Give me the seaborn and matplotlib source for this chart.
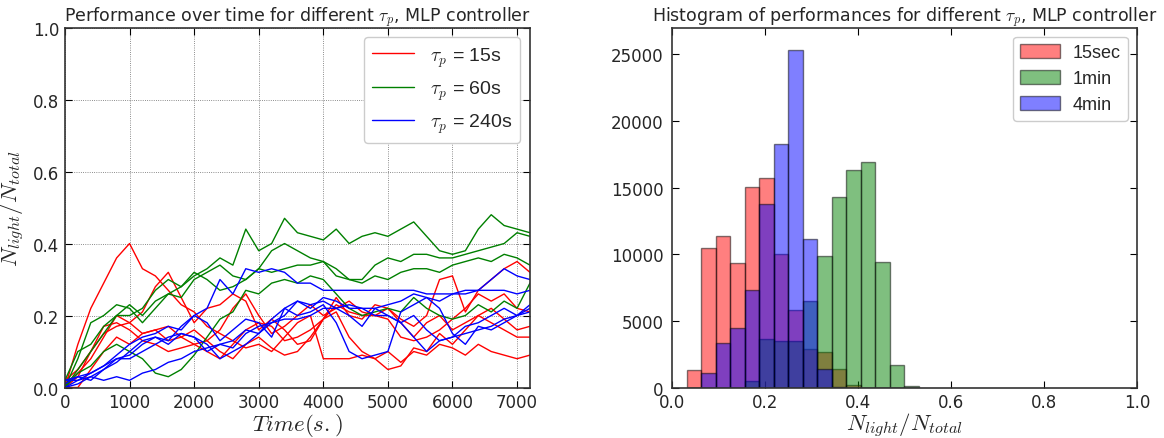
import numpy as np
import pandas as pd
import matplotlib
matplotlib.use('Agg')
import matplotlib.pyplot as plt
import seaborn as sns

# time axis of the runs (s)
t = [0, 200, 400, 600, 800, 1000, 1200, 1400, 1600, 1800, 2000, 2200, 2400,
     2600, 2800, 3000, 3200, 3400, 3600, 3800, 4000, 4200, 4400, 4600, 4800,
     5000, 5200, 5400, 5600, 5800, 6000, 6200, 6400, 6600, 6800, 7000, 7200]

# tau_p = 15s runs
r1 = [0.0, 0.12, 0.22, 0.29, 0.36, 0.40, 0.33, 0.31, 0.27, 0.23, 0.21, 0.17, 0.15,
      0.13, 0.11, 0.12, 0.10, 0.14, 0.18, 0.20, 0.08, 0.08, 0.08, 0.09, 0.08,
      0.10, 0.07, 0.10, 0.09, 0.12, 0.11, 0.09, 0.12, 0.10, 0.09, 0.08, 0.09]
r2 = [0.02, 0.05, 0.10, 0.15, 0.17, 0.18, 0.15, 0.16, 0.17, 0.14, 0.16, 0.13, 0.16,
      0.22, 0.26, 0.20, 0.15, 0.17, 0.20, 0.23, 0.20, 0.22, 0.24, 0.21, 0.20,
      0.22, 0.19, 0.17, 0.20, 0.30, 0.31, 0.21, 0.27, 0.30, 0.33, 0.35, 0.32]
r3 = [0.0, 0.03, 0.10, 0.17, 0.18, 0.16, 0.13, 0.12, 0.10, 0.11, 0.12, 0.10, 0.08,
      0.12, 0.16, 0.18, 0.17, 0.13, 0.14, 0.16, 0.19, 0.25, 0.20, 0.19, 0.23,
      0.22, 0.18, 0.14, 0.18, 0.20, 0.16, 0.18, 0.20, 0.22, 0.19, 0.16, 0.17]
r4 = [0.0, 0.0, 0.05, 0.10, 0.14, 0.12, 0.15, 0.16, 0.13, 0.14, 0.12, 0.13, 0.10,
      0.08, 0.12, 0.14, 0.11, 0.09, 0.10, 0.14, 0.19, 0.21, 0.14, 0.10, 0.08,
      0.05, 0.06, 0.11, 0.10, 0.15, 0.12, 0.16, 0.20, 0.18, 0.16, 0.14, 0.14]
r5 = [0.01, 0.04, 0.08, 0.14, 0.20, 0.18, 0.21, 0.28, 0.32, 0.25, 0.18, 0.22, 0.23,
      0.26, 0.24, 0.16, 0.19, 0.16, 0.12, 0.13, 0.19, 0.23, 0.21, 0.20, 0.20,
      0.19, 0.14, 0.13, 0.14, 0.16, 0.19, 0.22, 0.26, 0.24, 0.26, 0.22, 0.21]

# tau_p = 60s runs
g1 = [0.0, 0.05, 0.10, 0.15, 0.20, 0.20, 0.22, 0.27, 0.30, 0.28, 0.31, 0.33, 0.36,
      0.34, 0.44, 0.38, 0.40, 0.47, 0.43, 0.42, 0.41, 0.44, 0.40, 0.42, 0.43,
      0.42, 0.44, 0.46, 0.42, 0.38, 0.37, 0.38, 0.44, 0.48, 0.45, 0.44, 0.43]
g2 = [0.0, 0.08, 0.18, 0.20, 0.23, 0.22, 0.18, 0.22, 0.26, 0.25, 0.30, 0.32, 0.34,
      0.31, 0.30, 0.33, 0.38, 0.40, 0.38, 0.36, 0.35, 0.31, 0.30, 0.30, 0.34,
      0.36, 0.35, 0.37, 0.37, 0.36, 0.36, 0.37, 0.38, 0.39, 0.40, 0.43, 0.42]
g3 = [0.02, 0.10, 0.12, 0.17, 0.20, 0.23, 0.20, 0.24, 0.26, 0.28, 0.32, 0.30, 0.27,
      0.28, 0.30, 0.33, 0.32, 0.33, 0.34, 0.34, 0.35, 0.33, 0.30, 0.29, 0.31,
      0.30, 0.32, 0.33, 0.33, 0.32, 0.34, 0.35, 0.36, 0.35, 0.37, 0.36, 0.34]
g4 = [0.0, 0.04, 0.06, 0.10, 0.12, 0.10, 0.08, 0.04, 0.03, 0.05, 0.09, 0.14, 0.19,
      0.21, 0.27, 0.26, 0.29, 0.30, 0.29, 0.31, 0.30, 0.26, 0.22, 0.20, 0.21,
      0.22, 0.21, 0.25, 0.22, 0.20, 0.19, 0.20, 0.23, 0.21, 0.24, 0.22, 0.29]

# tau_p = 240s runs
b1 = [0.0, 0.02, 0.04, 0.06, 0.09, 0.12, 0.14, 0.15, 0.17, 0.16, 0.20, 0.22, 0.30,
      0.26, 0.33, 0.32, 0.33, 0.32, 0.29, 0.29, 0.27, 0.27, 0.27, 0.27, 0.27,
      0.27, 0.27, 0.27, 0.26, 0.26, 0.26, 0.26, 0.27, 0.27, 0.27, 0.26, 0.27]
b2 = [0.02, 0.02, 0.03, 0.05, 0.07, 0.10, 0.13, 0.14, 0.12, 0.15, 0.14, 0.10, 0.12,
      0.13, 0.16, 0.15, 0.18, 0.20, 0.24, 0.22, 0.25, 0.24, 0.22, 0.22, 0.22,
      0.23, 0.24, 0.26, 0.25, 0.24, 0.26, 0.27, 0.27, 0.30, 0.33, 0.31, 0.30]
b3 = [0.01, 0.03, 0.02, 0.05, 0.08, 0.09, 0.12, 0.14, 0.13, 0.17, 0.20, 0.18, 0.13,
      0.16, 0.19, 0.18, 0.14, 0.22, 0.20, 0.21, 0.23, 0.18, 0.10, 0.08, 0.09,
      0.10, 0.21, 0.23, 0.25, 0.22, 0.15, 0.12, 0.17, 0.16, 0.18, 0.20, 0.23]
b4 = [0.02, 0.03, 0.04, 0.06, 0.08, 0.08, 0.10, 0.12, 0.14, 0.15, 0.14, 0.12, 0.08,
      0.10, 0.12, 0.15, 0.19, 0.22, 0.24, 0.23, 0.24, 0.22, 0.20, 0.17, 0.22,
      0.20, 0.18, 0.14, 0.10, 0.13, 0.14, 0.15, 0.16, 0.17, 0.19, 0.20, 0.21]
b5 = [0.0, 0.01, 0.03, 0.02, 0.03, 0.02, 0.04, 0.05, 0.07, 0.08, 0.10, 0.11, 0.12,
      0.11, 0.15, 0.17, 0.18, 0.19, 0.19, 0.20, 0.22, 0.22, 0.23, 0.22, 0.20,
      0.20, 0.18, 0.20, 0.16, 0.13, 0.14, 0.17, 0.18, 0.20, 0.22, 0.20, 0.22]

runs = {'15s': [r1, r2, r3, r4, r5],
        '60s': [g1, g2, g3, g4],
        '240s': [b1, b2, b3, b4, b5]}
line_labels = [r'$\tau_p$ = 15s', r'$\tau_p$ = 60s', r'$\tau_p$ = 240s']

# histogram bins (width 1/32) and counts per setting
bin_edges = np.linspace(1 / 32, 17 / 32, 17)
counts_15sec = [1350, 10430, 11380, 9360, 15070, 15690, 10050, 5800, 2920, 2650,
                1400, 200, 0, 0, 0, 0]
counts_1min = [0, 0, 0, 0, 500, 3650, 3500, 3500, 6490, 9850, 14300, 16300,
               16950, 9400, 1700, 100]
counts_4min = [0, 1100, 3350, 4500, 7300, 13750, 18300, 25300, 11150, 1400, 50,
               0, 0, 0, 0, 0]

#  build long table for the line plot
rows = []
for grp, lst in runs.items():
    for i, vals in enumerate(lst):
        for tt, v in zip(t, vals):
            rows.append((tt, v, grp, grp + str(i)))
df = pd.DataFrame(rows, columns=['time', 'perf', 'tau', 'run'])

sns.set_style('white')
plt.rcParams['mathtext.fontset'] = 'cm'
plt.rcParams['font.family'] = ['DejaVu Sans']

fig = plt.figure(figsize=(11.64, 4.39), dpi=100)
ax1 = fig.add_axes([0.0558, 0.115, 0.3995, 0.82])
ax2 = fig.add_axes([0.5773, 0.115, 0.3995, 0.82])

#  left: performance over time
palette = {'15s': 'red', '60s': 'green', '240s': 'blue'}
sns.lineplot(data=df, x='time', y='perf', hue='tau', units='run', estimator=None,
             palette=palette, linewidth=1, ax=ax1)
ax1.set_xlim(0, 7200)
ax1.set_ylim(0, 1)
ax1.set_xticks(range(0, 8000, 1000))
ax1.set_yticks(np.arange(0, 1.01, 0.2))
ax1.grid(True, color='black', linestyle=':', linewidth=0.6, alpha=0.6)
ax1.set_xlabel(r'$Time(s.)$', fontsize=16.5, labelpad=0)
ax1.set_ylabel(r'$N_{light}/N_{total}$', fontsize=16.5, labelpad=4)
ax1.set_title(r'Performance over time for different $\tau_p$, MLP controller',
              fontsize=12.5, pad=5)
handles = ax1.get_legend().legend_handles
ax1.legend(handles, line_labels, loc='upper right',
           prop={'family': 'Liberation Sans', 'size': 14},
           handlelength=2.2, handletextpad=0.8, labelspacing=0.5,
           fancybox=True, framealpha=1, edgecolor='#cccccc')

#  right: histogram of performances (each bin centre repeated count times)
centers = (bin_edges[:-1] + bin_edges[1:]) / 2
for name, col, cnt in [('15sec', 'red', counts_15sec), ('1min', 'green', counts_1min),
                       ('4min', 'blue', counts_4min)]:
    vals = np.repeat(centers, cnt)
    sns.histplot(x=vals, bins=bin_edges, color=col, alpha=0.5,
                 edgecolor=(0, 0, 0, 0.5), linewidth=1, label=name, ax=ax2)
ax2.set_xlim(0, 1)
ax2.set_ylim(0, 27000)
ax2.set_xticks(np.arange(0, 1.01, 0.2))
ax2.set_yticks(range(0, 26000, 5000))
ax2.set_xlabel(r'$N_{light}/N_{total}$', fontsize=16.5, labelpad=0)
ax2.set_ylabel('')
ax2.set_title(r'Histogram of performances for different $\tau_p$, MLP controller',
              fontsize=12.5, pad=5)
ax2.legend(loc='upper right', prop={'family': 'Liberation Sans', 'size': 13},
           handlelength=2.2, handleheight=0.8, handletextpad=0.7, labelspacing=0.5,
           fancybox=True, framealpha=1, edgecolor='#cccccc')

for ax in (ax1, ax2):
    ax.tick_params(labelsize=12, direction='in', top=True, right=True,
                   bottom=True, left=True, length=5, color='black', pad=4)
    for s in ax.spines.values():
        s.set_color('#333333')
        s.set_linewidth(1.2)
ax2.tick_params(axis='y', pad=6)

fig.savefig('out.png', dpi=100)
